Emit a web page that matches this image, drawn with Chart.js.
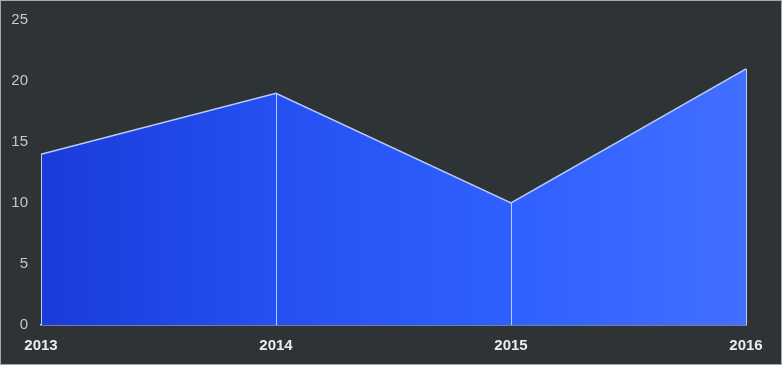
<!DOCTYPE html>
<html>
<head>
<meta charset="utf-8">
<script src="https://cdn.jsdelivr.net/npm/chart.js@4"></script>
<style>
  html, body { margin: 0; padding: 0; background: #2e3336; }
  #wrap { width: 782px; height: 365px; box-sizing: border-box; border: 1px solid #a3a9ab; background: #2e3336; }
  canvas { display: block; }
</style>
</head>
<body>
<div id="wrap"><canvas id="c" width="780" height="363"></canvas></div>
<script>
const categories = ['2013', '2014', '2015', '2016'];
const values = [14, 19, 10, 21];
const yTicks = [0, 5, 10, 15, 20, 25];

const lineColor = 'rgba(195,210,255,0.95)';

const dropLines = {
  id: 'dropLines',
  afterDatasetsDraw(chart) {
    const meta = chart.getDatasetMeta(0);
    const ctx = chart.ctx;
    const bottom = chart.scales.y.getPixelForValue(0);
    ctx.save();
    ctx.strokeStyle = lineColor;
    ctx.lineWidth = 1;
    meta.data.forEach(p => {
      const x = Math.round(p.x) + 0.5;
      ctx.beginPath();
      ctx.moveTo(x, p.y);
      ctx.lineTo(x, bottom);
      ctx.stroke();
    });
    ctx.restore();
  }
};

new Chart(document.getElementById('c'), {
  type: 'line',
  data: {
    labels: categories,
    datasets: [{
      data: values,
      fill: 'origin',
      borderColor: lineColor,
      borderWidth: 1.5,
      pointRadius: 0,
      tension: 0,
      backgroundColor: (ctx) => {
        const ca = ctx.chart.chartArea;
        if (!ca) return '#2a55f0';
        const g = ctx.chart.ctx.createLinearGradient(ca.left, 0, ca.right, 0);
        g.addColorStop(0, '#1a3bda');
        g.addColorStop(0.33, '#2550f2');
        g.addColorStop(0.66, '#2e60ff');
        g.addColorStop(1, '#416fff');
        return g;
      }
    }]
  },
  options: {
    responsive: false,
    animation: false,
    devicePixelRatio: 1,
    layout: { padding: { top: 0, right: 35, bottom: 0, left: 0 } },
    plugins: { legend: { display: false }, tooltip: { enabled: false } },
    scales: {
      x: {
        offset: false,
        grid: { display: false, drawTicks: false },
        border: { display: true, color: lineColor, width: 1.5 },
        ticks: {
          color: '#ececec',
          font: { family: 'Liberation Sans, Arimo, Helvetica, Arial, sans-serif', size: 15, weight: 'bold' },
          padding: 12,
          maxRotation: 0,
          autoSkip: false
        },
        afterFit: s => { s.height = 39; }
      },
      y: {
        min: 0,
        max: 25,
        grid: { display: false, drawTicks: false },
        border: { display: false },
        afterBuildTicks: s => { s.ticks = yTicks.map(v => ({ value: v })); },
        ticks: {
          color: '#c6c8c9',
          font: { family: 'Liberation Sans, Arimo, Helvetica, Arial, sans-serif', size: 15 },
          padding: 13
        },
        afterFit: s => { s.width = 40; s.paddingTop = 19; s.paddingBottom = 0; }
      }
    }
  },
  plugins: [dropLines]
});
</script>
</body>
</html>
